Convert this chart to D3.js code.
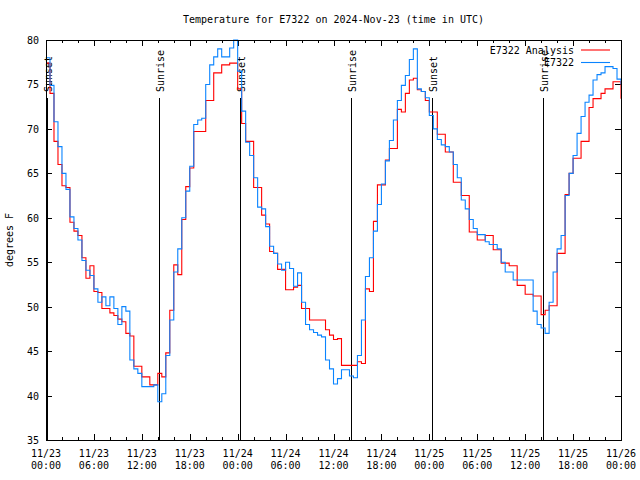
<!DOCTYPE html>
<html><head><meta charset="utf-8">
<script src="https://cdn.jsdelivr.net/npm/d3@7/dist/d3.min.js"></script>
<style>
body{margin:0;background:#fff}
text{font-family:"DejaVu Sans Mono",monospace;font-size:10px;fill:#000}
</style>
</head><body>
<svg id="chart" width="640" height="480"></svg>
<script>
// ---- data ----
const chartTitle = "Temperature for E7322 on 2024-Nov-23 (time in UTC)";
const yAxisLabel = "degrees F";
const seriesNames = ["E7322 Analysis", "E7322"];
const seriesColors = ["#ff0000", "#0a84ff"];
const startTime = "2024-11-23T00:00:00Z";
const endTime = "2024-11-26T00:00:00Z";
const stepMinutes = 30;
// analysis (red), one value every 30 minutes from 11/23 00:00
const analysisTemps = [
 77.4,74.0,68.6,66.0,63.6,63.4,59.5,58.5,58.0,55.5,53.2,54.6,51.7,51.6,49.8,49.8,
 49.3,49.0,48.6,48.3,47.0,46.7,43.3,43.3,42.1,42.1,41.2,41.2,42.5,42.1,44.8,49.6,
 54.7,53.6,59.8,63.5,65.6,69.7,69.7,69.7,73.2,73.2,76.3,76.3,77.2,77.2,77.4,77.4,
 74.5,70.6,68.6,68.6,63.4,63.4,60.3,59.3,56.2,56.0,54.2,54.2,51.9,51.9,52.2,52.4,
 49.8,49.8,48.5,48.5,48.5,48.5,47.4,46.8,46.3,46.4,43.4,43.4,43.4,43.4,43.8,43.6,
 52.0,51.7,59.6,63.7,63.7,66.5,67.8,67.8,72.2,71.9,74.0,75.5,75.7,74.4,74.2,73.2,
 71.9,71.9,69.4,69.4,67.4,67.4,64.0,64.0,62.5,62.5,58.4,58.4,57.5,57.5,58.0,58.0,
 56.4,56.4,54.9,54.9,54.6,54.6,52.4,52.4,51.4,51.4,51.2,51.2,49.1,49.6,50.1,50.1,
 56.0,56.0,62.6,65.0,66.7,66.7,68.6,68.6,72.4,73.4,73.4,74.0,74.5,74.5,75.3,75.3,
 73.4
];
// observations (blue), one value every 30 minutes from 11/23 00:00
const observedTemps = [
 78.0,74.9,70.8,68.0,65.0,63.2,60.1,58.8,57.5,55.2,54.1,53.5,52.0,50.5,51.1,50.1,
 51.1,49.8,48.0,50.0,49.5,44.0,43.0,42.5,41.0,41.0,41.0,41.2,39.3,40.2,44.5,48.5,
 53.9,56.5,60.0,63.0,65.8,70.5,71.0,71.2,75.0,77.2,78.1,79.0,78.1,78.1,79.1,80.0,
 76.5,72.0,68.5,67.0,64.5,61.2,61.0,59.0,56.8,56.0,54.8,54.1,55.0,54.3,52.3,53.8,
 50.5,48.0,47.4,47.1,46.8,46.6,44.0,43.0,41.3,41.9,42.9,42.9,42.2,42.0,44.5,48.5,
 53.4,55.5,58.5,61.5,63.8,66.4,68.7,71.0,73.2,74.9,76.0,77.8,79.0,74.5,74.2,73.5,
 71.5,70.0,68.8,68.2,68.0,67.4,66.0,64.5,62.0,61.0,59.8,58.8,58.1,58.1,57.3,57.0,
 57.0,56.5,55.0,53.9,53.9,53.0,53.0,53.0,53.0,53.0,49.5,48.0,47.6,47.0,50.5,53.9,
 56.5,58.0,62.5,65.0,67.0,69.5,71.4,73.0,73.8,75.5,76.1,76.3,77.0,77.0,76.8,75.6,
 75.0
];
const sunLabels = ["Sunset","Sunrise","Sunset","Sunrise","Sunset","Sunrise"];
const sunTimes = ["2024-11-23T00:10:00Z","2024-11-23T14:09:00Z","2024-11-24T00:17:00Z",
                  "2024-11-24T14:11:00Z","2024-11-25T00:22:00Z","2024-11-25T14:17:00Z"];
const yTickValues = [35,40,45,50,55,60,65,70,75,80];

// ---- layout ----
const L = 46, R = 621, T = 40, B = 440;
const svg = d3.select("#chart");
const t0 = new Date(startTime), t1 = new Date(endTime);
const x = d3.scaleUtc().domain([t0, t1]).range([L, R]);
const y = d3.scaleLinear().domain([35, 80]).range([B, T]);

const timeAt = i => new Date(t0.getTime() + i * stepMinutes * 60000);

// axes ticks
const major = d3.utcHour.every(6).range(t0, new Date(t1.getTime() + 1));
const minor = d3.utcHour.every(2).range(t0, new Date(t1.getTime() + 1));

function styleAxis(g){
  g.select(".domain").remove();
  g.selectAll("line").attr("stroke","#000").attr("shape-rendering","crispEdges");
  g.attr("font-family", null).attr("font-size", null);
}
svg.append("g").attr("transform",`translate(0,${B})`)
  .call(d3.axisBottom(x).tickValues(minor).tickSize(-3).tickFormat("")).call(styleAxis);
svg.append("g").attr("transform",`translate(0,${B})`)
  .call(d3.axisBottom(x).tickValues(major).tickSize(-6).tickFormat("")).call(styleAxis);
svg.append("g").attr("transform",`translate(0,${T})`)
  .call(d3.axisTop(x).tickValues(minor).tickSize(-3).tickFormat("")).call(styleAxis);
svg.append("g").attr("transform",`translate(0,${T})`)
  .call(d3.axisTop(x).tickValues(major).tickSize(-6).tickFormat("")).call(styleAxis);

const fmtD = d3.utcFormat("%m/%d"), fmtH = d3.utcFormat("%H:%M");
const xl = svg.append("g");
major.forEach(d => {
  const t = xl.append("text").attr("text-anchor","middle");
  t.append("tspan").attr("x", x(d)).attr("y", 457).text(fmtD(d));
  t.append("tspan").attr("x", x(d)).attr("y", 469).text(fmtH(d));
});

const yl = svg.append("g").attr("transform",`translate(${L},0)`)
  .call(d3.axisLeft(y).tickValues(yTickValues).tickSize(-6).tickPadding(7).tickFormat(d3.format("d")))
  .call(styleAxis);
yl.selectAll("text").attr("fill","#000").attr("dy","0.35em");
svg.append("g").attr("transform",`translate(${R},0)`)
  .call(d3.axisRight(y).tickValues(yTickValues).tickSize(-6).tickFormat("")).call(styleAxis);

// sunrise / sunset markers
sunTimes.forEach((s,i) => {
  const xs = Math.round(x(new Date(s))) + 0.5;
  svg.append("line").attr("x1",xs).attr("x2",xs).attr("y1",98).attr("y2",B)
    .attr("stroke","#000").attr("stroke-width",1);
  svg.append("text").attr("transform",`translate(${xs+4},92) rotate(-90)`)
    .attr("text-anchor","start").text(sunLabels[i]);
});

// data lines
const line = d3.line().x((d,i) => x(timeAt(i))).y(d => y(d)).curve(d3.curveStepAfter);
[analysisTemps, observedTemps].forEach((arr, k) => {
  svg.append("path").datum(arr).attr("d", line).attr("fill","none")
    .attr("stroke", seriesColors[k]).attr("stroke-width",1.1);
});

// border
svg.append("rect").attr("x",L+0.5).attr("y",T+0.5).attr("width",R-L).attr("height",B-T)
  .attr("fill","none").attr("stroke","#000").attr("stroke-width",1).attr("shape-rendering","crispEdges");

// title & y label
svg.append("text").attr("x",(L+R)/2).attr("y",23).attr("text-anchor","middle").text(chartTitle);
svg.append("text").attr("transform",`translate(13,240) rotate(-90)`).attr("text-anchor","middle").text(yAxisLabel);

// legend
seriesNames.forEach((n,i) => {
  const ly = 50 + i*12.5;
  svg.append("text").attr("x",574).attr("y",ly).attr("dy","0.35em").attr("text-anchor","end").text(n);
  svg.append("line").attr("x1",581).attr("x2",610).attr("y1",ly).attr("y2",ly)
    .attr("stroke",seriesColors[i]).attr("stroke-width",1.1);
});
</script>
</body></html>
